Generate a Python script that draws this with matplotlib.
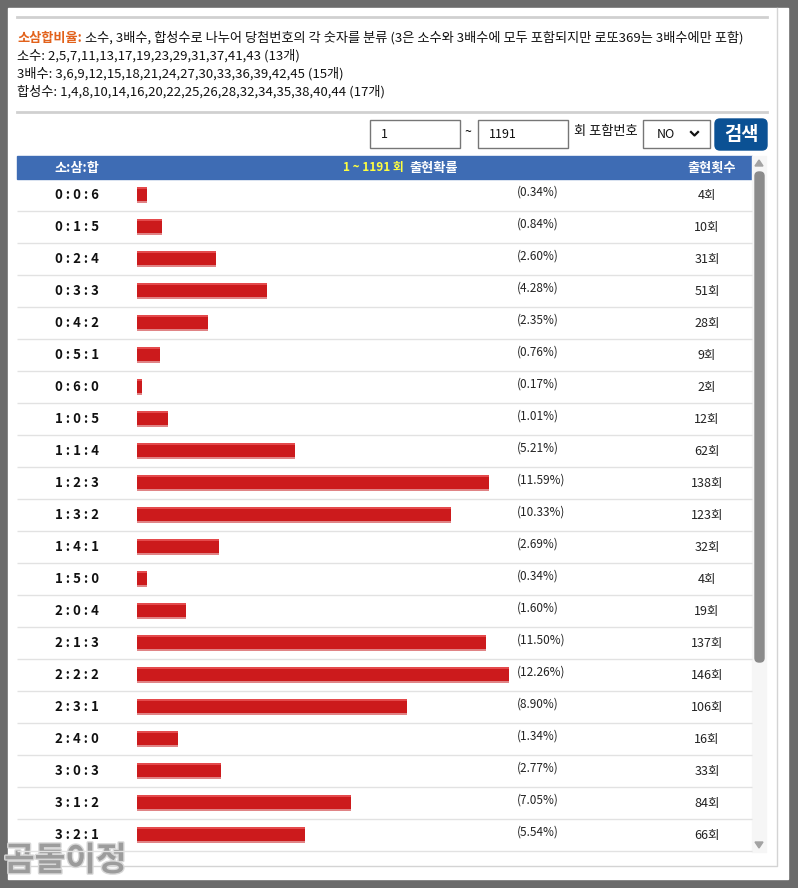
import numpy as np
import matplotlib
matplotlib.use('Agg')
from matplotlib import pyplot as plt
from matplotlib.patches import Rectangle, FancyBboxPatch
from matplotlib import transforms
import matplotlib.patheffects as pe

plt.rcParams['font.family'] = ['Noto Sans CJK KR', 'DejaVu Sans']

combos = ['0 : 0 : 6', '0 : 1 : 5', '0 : 2 : 4', '0 : 3 : 3', '0 : 4 : 2', '0 : 5 : 1',
          '0 : 6 : 0', '1 : 0 : 5', '1 : 1 : 4', '1 : 2 : 3', '1 : 3 : 2', '1 : 4 : 1',
          '1 : 5 : 0', '2 : 0 : 4', '2 : 1 : 3', '2 : 2 : 2', '2 : 3 : 1', '2 : 4 : 0',
          '3 : 0 : 3', '3 : 1 : 2', '3 : 2 : 1']
percents = [0.34, 0.84, 2.60, 4.28, 2.35, 0.76, 0.17, 1.01, 5.21, 11.59, 10.33, 2.69,
            0.34, 1.60, 11.50, 12.26, 8.90, 1.34, 2.77, 7.05, 5.54]
counts = [4, 10, 31, 51, 28, 9, 2, 12, 62, 138, 123, 32, 4, 19, 137, 146, 106, 16, 33, 84, 66]

info_lines = [
    '소수: 2,5,7,11,13,17,19,23,29,31,37,41,43 (13개)',
    '3배수: 3,6,9,12,15,18,21,24,27,30,33,36,39,42,45 (15개)',
    '합성수: 1,4,8,10,14,16,20,22,25,26,28,32,34,35,38,40,44 (17개)',
]

W, H = 798, 888
fig = plt.figure(figsize=(W / 100, H / 100), dpi=100)
fig.patch.set_facecolor('#6b6b6b')

# pixel canvas for the page
bg = fig.add_axes([0, 0, 1, 1])
bg.set_xlim(0, W)
bg.set_ylim(H, 0)
bg.axis('off')

bg.add_patch(Rectangle((8, 8), 780, 871, color='white', zorder=0))
bg.plot([8, 777, 777], [866, 866, 8], color='#d4d4d4', lw=1)
bg.plot([17, 767], [17, 17], color='#d0d0d0', lw=2)
bg.plot([17, 767], [112, 112], color='#d0d0d0', lw=2)

# description text
bg.text(17, 38, '소삼합비율:', color='#e2621b', fontsize=9.5, fontweight='bold', va='center')
bg.text(85, 38, '소수, 3배수, 합성수로 나누어 당첨번호의 각 숫자를 분류 '
        '(3은 소수와 3배수에 모두 포함되지만 로또369는 3배수에만 포함)',
        color='#111111', fontsize=9.5, va='center')
for i, line in enumerate(info_lines):
    bg.text(17, 56 + 18 * i, line, color='#111111', fontsize=9.5, va='center')

# search controls
for x0, txt in [(370, '1'), (478, '1191')]:
    bg.add_patch(Rectangle((x0, 120), 90, 28, fill=False, ec='#767676', lw=1))
    bg.text(x0 + 11, 134, txt, fontsize=9, va='center', color='#111111')
bg.text(468, 133, '~', fontsize=9, ha='center', va='center')
bg.text(574, 131, '회 포함번호', fontsize=9.5, va='center', color='#111111')
bg.add_patch(Rectangle((643, 120), 67, 28, fill=False, ec='#767676', lw=1))
bg.text(657, 134, 'NO', fontsize=9, va='center', color='#111111')
bg.plot([691, 694.5, 698], [132, 135.5, 132], color='#111111', lw=1.6)
bg.add_patch(FancyBboxPatch((715, 119), 52, 31, boxstyle='round,pad=0,rounding_size=5',
                            color='#0b5194'))
bg.text(741, 135, '검색', color='white', fontsize=13.5, fontweight='bold',
        ha='center', va='center')

# table header
bg.add_patch(Rectangle((17, 156), 735, 23, color='#3e6cb4'))
bg.text(77, 168, '소:삼:합', color='white', fontsize=9.5, fontweight='bold',
        ha='center', va='center')
bg.text(404, 168, '1 ~ 1191 회', color='#ffff40', fontsize=8.5, fontweight='bold',
        ha='right', va='center')
bg.text(409, 168, '출현확률', color='white', fontsize=9.5, fontweight='bold', va='center')
bg.text(712, 168, '출현횟수', color='white', fontsize=9.5, fontweight='bold',
        ha='center', va='center')

# scrollbar
bg.add_patch(Rectangle((752, 156), 14, 696, color='#f6f6f6'))
bg.add_patch(FancyBboxPatch((755, 172), 9, 490, boxstyle='round,pad=0,rounding_size=4',
                            color='#8b8b8b'))
bg.fill([755, 763, 759], [166, 166, 160], color='#a3a3a3')
bg.fill([755, 763, 759], [842, 842, 848], color='#a3a3a3')

# bar area: rows from y=179 to y=851, bars start at x=137
x0_px, x1_px = 137, 537
px_per_pct = 30.35
ax = fig.add_axes([x0_px / W, 1 - 851 / H, (x1_px - x0_px) / W, (851 - 179) / H])
ax.set_xlim(0, (x1_px - x0_px) / px_per_pct)
ax.set_ylim(len(combos) - 0.5, -0.5)
ax.axis('off')
ax.patch.set_alpha(0)

rows = np.arange(len(combos))
ax.barh(rows, percents, height=0.47, color='#cc1a1c')
ax.barh(rows - 0.205, percents, height=0.06, color='#e44a4c')
ax.barh(rows + 0.215, percents, height=0.04, color='#e08486')

trans = transforms.blended_transform_factory(bg.transData, ax.transData)
ax.hlines(rows + 0.5, 17, 752, transform=trans, color='#e2e2e2', lw=1, clip_on=False)
for i in rows:
    ax.text(77, i, combos[i], transform=trans, fontsize=9.5, fontweight='bold',
            ha='center', va='center', color='#111111')
    ax.text(517, i - 0.08, '(%.2f%%)' % percents[i], transform=trans, fontsize=8.5,
            va='center', color='#222222')
    ax.text(707, i, '%d회' % counts[i], transform=trans, fontsize=9,
            ha='center', va='center', color='#222222')

# watermark
bg.text(4, 861, '곰돌이정', fontsize=24, fontweight='bold', color='#9c9c9c', va='center',
        path_effects=[pe.withStroke(linewidth=2, foreground='#d8d8d8')])

fig.savefig('out.png', dpi=100, facecolor=fig.get_facecolor())
